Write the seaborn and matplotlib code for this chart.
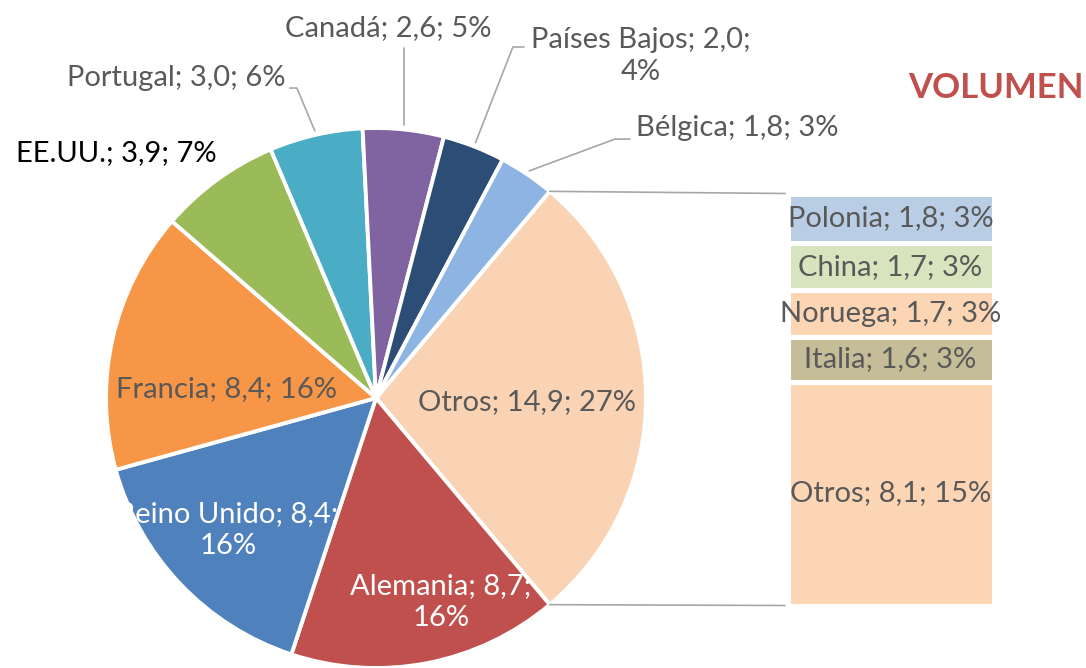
import numpy as np
import matplotlib
matplotlib.use("Agg")
import matplotlib.pyplot as plt
from matplotlib.patches import ConnectionPatch
import seaborn as sns

# pie data (first slice = "Otros", split into the bar on the right)
pie_names = ["Otros", "Alemania", "Reino Unido", "Francia", "EE.UU.",
             "Portugal", "Canadá", "Países Bajos", "Bélgica"]
pie_values = [14.9, 8.7, 8.4, 8.4, 3.9, 3.0, 2.6, 2.0, 1.8]
pie_pcts = [27, 16, 16, 16, 7, 6, 5, 4, 3]
pie_colors = ["#FAD3B4", "#C0504D", "#4F81BD", "#F79646", "#9BBB59",
              "#4BACC6", "#8064A2", "#2C4D75", "#8EB4E3"]

# breakdown of "Otros", bottom to top
bar_names = ["Otros", "Italia", "Noruega", "China", "Polonia"]
bar_values = [8.1, 1.6, 1.7, 1.7, 1.8]
bar_pcts = [15, 3, 3, 3, 3]
bar_colors = ["#FCD5B5", "#C4BD97", "#FCD5B5", "#D7E4BD", "#B9CDE5"]

title = "VOLUMEN"

sns.set_style("white")
plt.rcParams["font.family"] = ["Lato", "DejaVu Sans"]

GRAY = "#595959"
LINE = "#A6A6A6"
FS = 21


def fmt(name, v, p, brk=False):
    sep = "\n" if brk else " "
    num = f"{v:.1f}".replace(".", ",")
    return f"{name}; {num};{sep}{p}%"


fig = plt.figure(figsize=(10.86, 6.68), dpi=100)

# ---------- pie ----------
ax = fig.add_axes([106 / 1086, 0, 540 / 1086, 540 / 668])
total = sum(pie_values)
start = pie_values[0] / total * 360 / 2
wedges, _ = ax.pie(pie_values, colors=pie_colors, startangle=start,
                   counterclock=False, radius=1,
                   wedgeprops=dict(edgecolor="white", linewidth=2.8))
ax.set_xlim(-1, 1)
ax.set_ylim(-1, 1)
ax.set_aspect("equal")
ax.axis("off")

# label layout: (x, y, color, two lines)
layout = {
    "Otros": (0.559, -0.015, GRAY, False),
    "Alemania": (0.241, -0.756, "white", True),
    "Reino Unido": (-0.548, -0.489, "white", True),
    "Francia": (-0.552, 0.033, GRAY, False),
    "EE.UU.": (-0.963, 0.907, "black", False),
    "Portugal": (-0.741, 1.185, GRAY, False),
    "Canadá": (0.044, 1.370, GRAY, False),
    "Países Bajos": (0.981, 1.267, GRAY, True),
    "Bélgica": (1.337, 1.0, GRAY, False),
}
for name, v, p in zip(pie_names, pie_values, pie_pcts):
    x, y, c, brk = layout[name]
    ax.text(x, y, fmt(name, v, p, brk), ha="center", va="center",
            fontsize=FS, color=c, linespacing=1.3, clip_on=False)

# leader lines (elbow points)
elbows = {
    "Portugal": [(-0.293, 1.148), (-0.319, 1.148)],
    "Canadá": [(None, 1.296)],
    "Países Bajos": [(0.507, 1.300), (0.548, 1.300)],
    "Bélgica": [(0.885, 0.959), (0.941, 0.959)],
}
for w, name in zip(wedges, pie_names):
    if name not in elbows:
        continue
    mid = np.deg2rad((w.theta1 + w.theta2) / 2)
    x0, y0 = 1.015 * np.cos(mid), 1.015 * np.sin(mid)
    pts = [(x0, y0)]
    for ex, ey in elbows[name]:
        pts.append((x0 if ex is None else ex, ey))
    xs, ys = zip(*pts)
    ax.plot(xs, ys, color=LINE, lw=1.2, clip_on=False)

# ---------- bar ----------
bx = fig.add_axes([787.5 / 1086, (668 - 605.5) / 668, 206 / 1086, 412 / 668])
bottom = 0
for name, v, p, c in zip(bar_names, bar_values, bar_pcts, bar_colors):
    bx.bar(0, v, bottom=bottom, width=1, color=c, edgecolor="white", linewidth=3.6)
    bx.text(0, bottom + v / 2, fmt(name, v, p), ha="center", va="center",
            fontsize=FS, color=GRAY, clip_on=False)
    bottom += v
bx.set_xlim(-0.5, 0.5)
bx.set_ylim(0, sum(bar_values))
bx.axis("off")

# ---------- connectors ----------
a = np.deg2rad(start)
for sign, yb in [(1, 1), (-1, 0)]:
    con = ConnectionPatch(xyA=(np.cos(a), sign * np.sin(a)), coordsA=ax.transData,
                          xyB=(-0.012, yb), coordsB=bx.transAxes,
                          color=LINE, lw=1.2)
    fig.add_artist(con)

fig.text(908 / 1086, 1 - 88 / 668, title, ha="left", va="center",
         fontsize=25, fontweight="bold", color="#C0504D")

fig.savefig("out.png", dpi=100)
